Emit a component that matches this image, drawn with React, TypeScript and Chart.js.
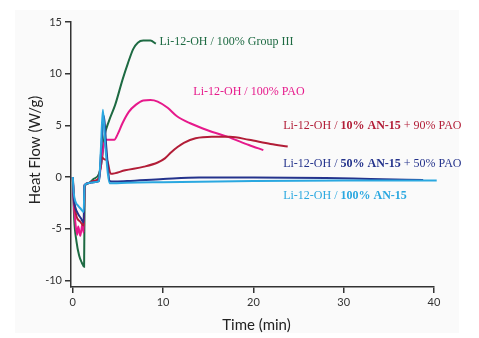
import React, { useEffect, useRef } from "react";
import { Chart, registerables } from "chart.js";

Chart.register(...registerables);

// Time (min) and heat flow (W/g) for each sample
const groupIIITime = [0, 0.15, 0.4, 0.7, 1.0, 1.25, 1.32, 1.7, 2.3, 2.9, 3.2, 3.5, 4.0, 4.7, 5.5, 6.1, 6.7, 7.2, 7.8, 8.6, 9.2];
const groupIIIFlow = [0, -4.0, -6.2, -7.6, -8.3, -8.7, -0.9, -0.6, -0.2, 0.3, 1.5, 3.9, 5.4, 7.0, 9.4, 11.0, 12.4, 13.0, 13.2, 13.2, 12.9];

const paoTime = [0, 0.1, 0.24, 0.48, 0.6, 0.83, 1.07, 1.2, 1.3, 1.7, 2.3, 2.9, 3.1, 3.4, 3.7, 4.6, 5.0, 5.5, 6.2, 7.0, 7.8, 8.6, 9.4, 10.5, 11.5, 13.0, 15.0, 17.1, 19.5, 21.1];
const paoFlow = [0, -2.5, -4.0, -5.6, -4.8, -5.7, -4.5, -5.4, -0.8, -0.6, -0.4, -0.1, 1.0, 3.0, 3.6, 3.6, 4.2, 5.2, 6.3, 7.0, 7.4, 7.45, 7.3, 6.7, 5.9, 5.2, 4.5, 3.9, 3.1, 2.6];

const an10Time = [0, 0.15, 0.4, 0.8, 1.2, 1.3, 1.7, 2.3, 2.9, 3.2, 3.5, 3.8, 4.2, 5.8, 7.9, 9.4, 10.2, 10.9, 11.6, 12.3, 13.6, 15.4, 17.4, 19.5, 21.9, 23.8];
const an10Flow = [0, -2.2, -3.8, -4.3, -4.7, -0.8, -0.6, -0.4, -0.1, 1.9, 1.7, 1.6, 0.3, 0.65, 1.0, 1.4, 1.8, 2.4, 2.9, 3.3, 3.75, 3.9, 3.9, 3.6, 3.2, 2.95];

const an50Time = [0, 0.1, 0.3, 0.6, 0.9, 1.2, 1.3, 1.7, 2.3, 2.9, 3.1, 3.45, 3.7, 4.1, 4.5, 6, 10, 14, 20, 28, 33, 38.8];
const an50Flow = [0, -2.0, -3.0, -3.6, -4.0, -4.4, -0.8, -0.6, -0.5, -0.4, 2.0, 5.9, 3.0, -0.4, -0.45, -0.4, -0.2, -0.05, -0.05, -0.1, -0.2, -0.3];

const an100Time = [0, 0.1, 0.3, 0.6, 0.9, 1.2, 1.3, 1.7, 2.3, 2.9, 3.1, 3.33, 3.6, 4.1, 4.5, 6, 10, 20, 30, 40.3];
const an100Flow = [0, -1.5, -2.4, -2.8, -3.1, -3.4, -0.8, -0.6, -0.5, -0.4, 2.5, 6.5, 3.0, -0.6, -0.6, -0.55, -0.5, -0.4, -0.35, -0.35];

const seriesColors = ["#1d6a42", "#e6198b", "#b21d37", "#24338c", "#2aa8e0"];

// Annotation text parts [text, bold] and anchor (time, heat flow)
const groupIIILabel = [["Li-12-OH / 100% Group III", false]];
const paoLabel = [["Li-12-OH / 100% PAO", false]];
const an10Label = [["Li-12-OH / ", false], ["10% AN-15", true], [" + 90% PAO", false]];
const an50Label = [["Li-12-OH / ", false], ["50% AN-15", true], [" + 50% PAO", false]];
const an100Label = [["Li-12-OH / ", false], ["100% AN-15", true]];
const labelAnchorTime = [9.6, 13.35, 23.3, 23.3, 23.3];
const labelAnchorFlow = [13.1, 8.26, 4.96, 1.28, -1.82];

const xTicks = [0, 10, 20, 30, 40];
const yTicks = [-10, -5, 0, 5, 10, 15];

const xTitle = "Time (min)";
const yTitle = "Heat Flow (W/g)";

const toPoints = (t: number[], v: number[]) => t.map((x, i) => ({ x, y: v[i] }));

export default function App() {
  const ref = useRef<HTMLCanvasElement | null>(null);
  useEffect(() => {
    if (!ref.current) return;
    const labels = [groupIIILabel, paoLabel, an10Label, an50Label, an100Label];
    const textPlugin = {
      id: "texts",
      beforeDraw(chart: any) {
        const c = chart.ctx;
        c.save();
        c.fillStyle = "#fafafa";
        c.fillRect(15, 10, 444, 323);
        c.restore();
      },
      afterDatasetsDraw(chart: any) {
        const c = chart.ctx;
        const xs = chart.scales.x;
        const ys = chart.scales.y;
        c.save();
        c.textBaseline = "middle";
        c.textAlign = "left";
        labels.forEach((parts: any[], i: number) => {
          let px = xs.getPixelForValue(labelAnchorTime[i]);
          const py = ys.getPixelForValue(labelAnchorFlow[i]);
          c.fillStyle = seriesColors[i];
          parts.forEach(([txt, bold]) => {
            c.font = `${bold ? "bold " : ""}12px "Liberation Serif"`;
            c.fillText(txt, px, py);
            px += c.measureText(txt).width;
          });
        });
        // axis titles
        c.fillStyle = "#222";
        c.font = `15px "Lato"`;
        c.textAlign = "center";
        c.fillText(xTitle, (xs.left + xs.right) / 2 + 4, 325);
        c.translate(35, 150);
        c.rotate(-Math.PI / 2);
        c.fillText(yTitle, 0, 0);
        c.restore();
      },
    };
    const mk = (t: number[], v: number[], i: number, clip: boolean) => ({
      data: toPoints(t, v),
      borderColor: seriesColors[i],
      backgroundColor: seriesColors[i],
      borderWidth: 2,
      pointRadius: 0,
      cubicInterpolationMode: "monotone",
      clip: clip ? undefined : false,
    });
    const chart = new Chart(ref.current, {
      type: "line",
      data: {
        datasets: [
          mk(an100Time, an100Flow, 4, false),
          mk(an50Time, an50Flow, 3, true),
          mk(an10Time, an10Flow, 2, true),
          mk(paoTime, paoFlow, 1, true),
          mk(groupIIITime, groupIIIFlow, 0, true),
        ] as any,
      },
      options: {
        animation: false,
        responsive: false,
        devicePixelRatio: 1,
        layout: { padding: { left: 0, top: 22, right: 45, bottom: 0 } },
        plugins: { legend: { display: false }, tooltip: { enabled: false } },
        scales: {
          x: {
            type: "linear",
            min: -0.2,
            max: 40,
            afterBuildTicks: (s: any) => { s.ticks = xTicks.map((v) => ({ value: v })); },
            afterFit: (s: any) => { s.height = 51; },
            grid: { display: true, drawOnChartArea: false, drawTicks: true, tickLength: 6, color: "#333", lineWidth: 1.5 },
            border: { display: true, color: "#333", width: 1.5 },
            ticks: { color: "#333", font: { family: "Lato", size: 11 }, padding: 3, maxRotation: 0 },
          },
          y: {
            type: "linear",
            min: -10.65,
            max: 15,
            afterBuildTicks: (s: any) => { s.ticks = yTicks.map((v) => ({ value: v })); },
            afterFit: (s: any) => { s.width = 71; },
            grid: { display: true, drawOnChartArea: false, drawTicks: true, tickLength: 6, color: "#333", lineWidth: 1.5 },
            border: { display: true, color: "#333", width: 1.5 },
            ticks: { color: "#333", font: { family: "Lato", size: 11 }, padding: 3 },
          },
        },
      } as any,
      plugins: [textPlugin],
    });
    return () => chart.destroy();
  }, []);
  return (
    <div style={{ position: "absolute", left: 0, top: 0, width: 479, height: 338, background: "#fff" }}>
      <canvas ref={ref} width={479} height={338} style={{ display: "block" }} />
    </div>
  );
}
